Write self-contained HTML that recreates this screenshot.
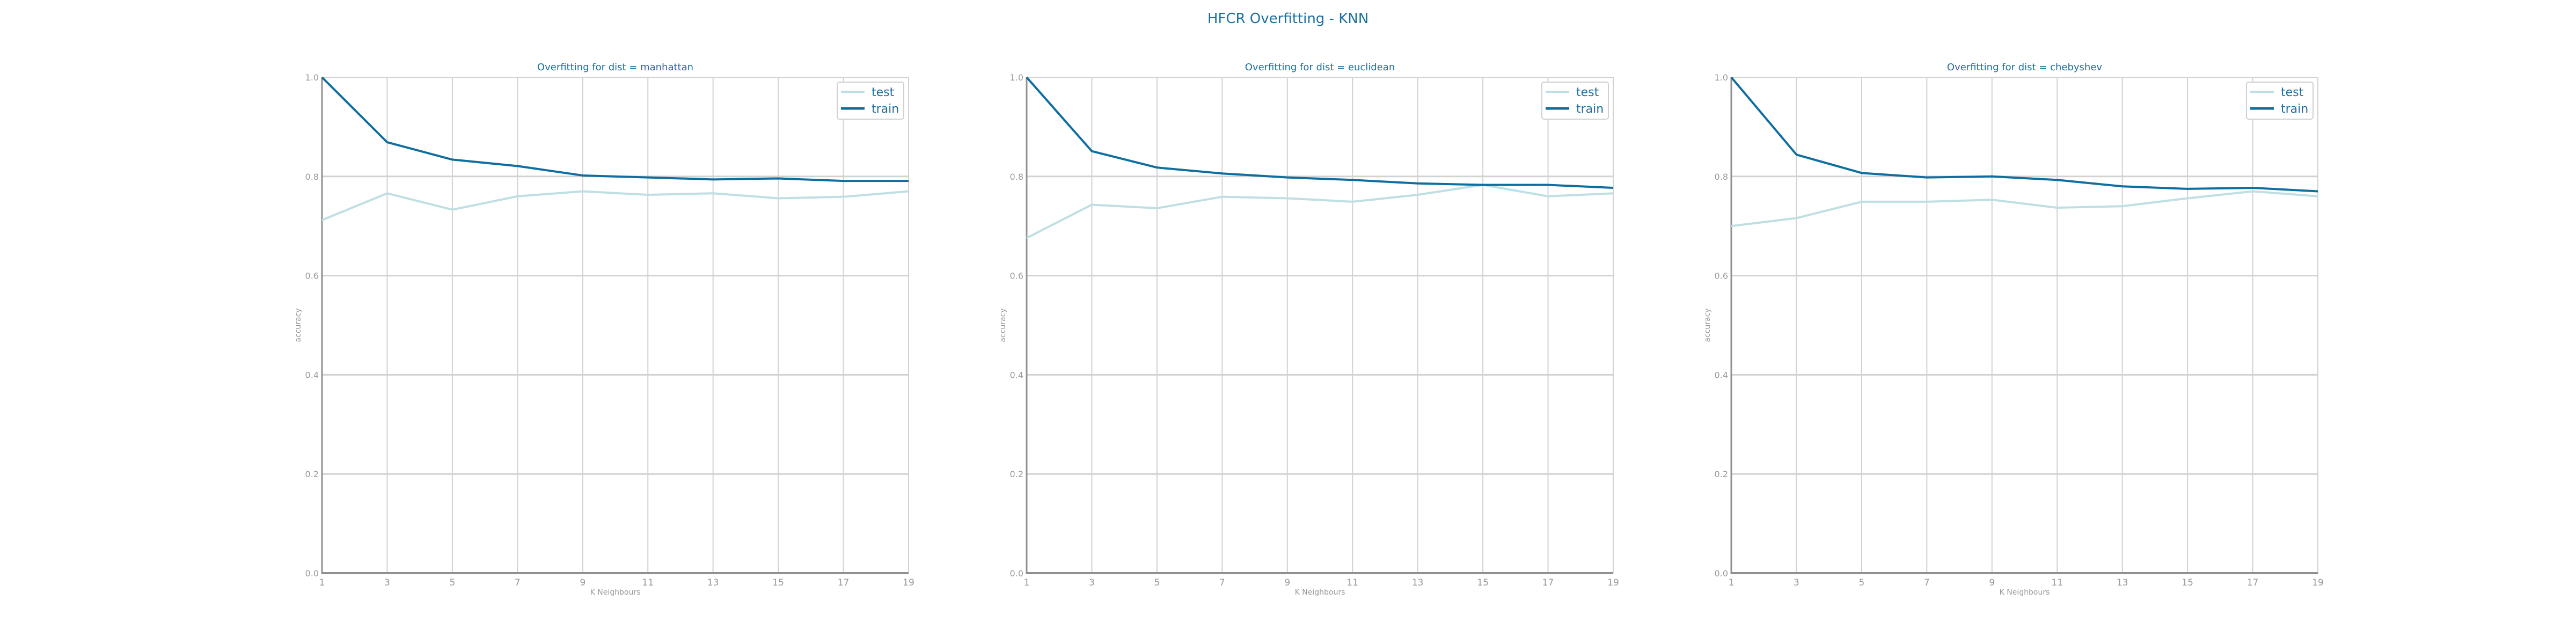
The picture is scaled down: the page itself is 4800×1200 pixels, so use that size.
<!DOCTYPE html>
<html><head><meta charset="utf-8">
<style>
html,body{margin:0;padding:0;background:#fff;}
svg{display:block;}
text{font-family:"DejaVu Sans","Liberation Sans",sans-serif;}
</style></head>
<body>
<svg id="fig" width="4800" height="1200" viewBox="0 0 4800 1200" xmlns="http://www.w3.org/2000/svg">
<rect width="4800" height="1200" fill="#fff"/>
<text x="2400" y="43" text-anchor="middle" font-size="26" fill="#1a6fa0">HFCR Overfitting - KNN</text>
</svg>
<script>
const kValues = [1,3,5,7,9,11,13,15,17,19];
const yTicks = [0.0,0.2,0.4,0.6,0.8,1.0];
const distNames = ["manhattan","euclidean","chebyshev"];
const trainManhattan = [1.0,0.869,0.834,0.821,0.802,0.798,0.794,0.796,0.791,0.791];
const testManhattan = [0.712,0.766,0.733,0.760,0.770,0.763,0.766,0.756,0.759,0.770];
const trainEuclidean = [1.0,0.851,0.818,0.806,0.798,0.793,0.786,0.783,0.783,0.777];
const testEuclidean = [0.676,0.743,0.736,0.759,0.756,0.749,0.763,0.783,0.760,0.766];
const trainChebyshev = [1.0,0.844,0.807,0.798,0.800,0.793,0.780,0.775,0.777,0.770];
const testChebyshev = [0.700,0.716,0.749,0.749,0.753,0.737,0.740,0.756,0.770,0.760];
const trainSeries = [trainManhattan,trainEuclidean,trainChebyshev];
const testSeries = [testManhattan,testEuclidean,testChebyshev];

const NS="http://www.w3.org/2000/svg";
const svg=document.getElementById('fig');
function mk(tag,attrs,parent){const e=document.createElementNS(NS,tag);for(const k in attrs)e.setAttribute(k,attrs[k]);(parent||svg).appendChild(e);return e;}
const TOP=144,BOT=1068,W=1093;
const lefts=[600,1913,3226];
const TRAIN="#0f6ea0",TEST="#bfdfe2",GRID="#d2d2d2",AX="#909090";

for(let p=0;p<3;p++){
  const L=lefts[p],R=L+W;
  const xs=k=>L+(k-kValues[0])/(kValues[kValues.length-1]-kValues[0])*W;
  const ys=v=>BOT-v*(BOT-TOP);
  const g=mk('g',{});
  
  
  // grid
  kValues.forEach(k=>{
    const l=mk('line',{x1:xs(k),x2:xs(k),y1:TOP,y2:BOT,stroke:GRID,'stroke-width':2},g);
    
    
  });
  yTicks.forEach(v=>{
    const l=mk('line',{x1:L,x2:R,y1:ys(v),y2:ys(v),stroke:GRID,'stroke-width':v===0.8||v===0.6||v===0.4||v===0.2?3:2},g);
    
    
    const t=mk('text',{x:L-6,y:ys(v)+6,'text-anchor':'end','font-size':16,fill:'#999'},g);
    t.textContent=v.toFixed(1);
    
    
  });
  kValues.forEach(k=>{
    const t=mk('text',{x:xs(k),y:BOT+23,'text-anchor':'middle','font-size':17,fill:'#999'},g);
    t.textContent=k;
    
    
  });
  // axes
  const ya=mk('line',{x1:L,x2:L,y1:TOP,y2:BOT+2,stroke:AX,'stroke-width':3},g);
  
  
  const xa=mk('line',{x1:L,x2:R,y1:BOT,y2:BOT,stroke:AX,'stroke-width':4},g);
  
  
  // series
  const pts=arr=>arr.map((v,i)=>xs(kValues[i])+','+ys(v)).join(' ');
  const te=mk('polyline',{points:pts(testSeries[p]),fill:'none',stroke:TEST,'stroke-width':4,'stroke-linejoin':'round'},g);
  
  
  const tr=mk('polyline',{points:pts(trainSeries[p]),fill:'none',stroke:TRAIN,'stroke-width':4,'stroke-linejoin':'round'},g);
  
  
  // titles
  const st=mk('text',{x:L+W/2,y:131,'text-anchor':'middle','font-size':18,fill:'#1a6fa0'},g);
  st.textContent='Overfitting for dist = '+distNames[p];
  
  
  const xl=mk('text',{x:L+W/2,y:1108,'text-anchor':'middle','font-size':14,fill:'#999'},g);
  xl.textContent='K Neighbours';
  
  
  const yl=mk('text',{x:0,y:0,'text-anchor':'middle','font-size':14,fill:'#999',transform:'translate('+(L-40)+','+((TOP+BOT)/2)+') rotate(-90)'},g);
  yl.textContent='accuracy';
  
  
  // legend
  const lg=mk('g',{},g);
  
  
  mk('rect',{x:R-133,y:153,width:124,height:69,rx:4,fill:'#fff',stroke:'#d0d0d0','stroke-width':2},lg);
  mk('line',{x1:R-126,x2:R-82,y1:171,y2:171,stroke:TEST,'stroke-width':4},lg);
  mk('line',{x1:R-126,x2:R-82,y1:202,y2:202,stroke:TRAIN,'stroke-width':5},lg);
  const lt1=mk('text',{x:R-69,y:179,'font-size':22,fill:'#1a6fa0'},lg);
  lt1.textContent='test';
  
  
  const lt2=mk('text',{x:R-69,y:210,'font-size':22,fill:'#1a6fa0'},lg);
  lt2.textContent='train';
  
  
}
</script>
</body></html>
